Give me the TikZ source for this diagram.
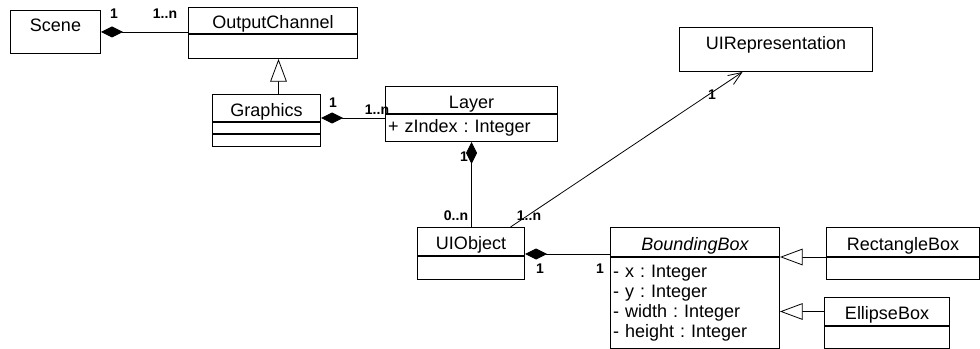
\documentclass[tikz,border=0pt]{standalone}
\usepackage{fontspec}
\setmainfont{Liberation Sans}
\usetikzlibrary{arrows.meta,calc}
\frenchspacing

\tikzset{
  classbox/.style={draw, line width=0.75pt, inner sep=0pt, font=\fontsize{13.5}{15}\selectfont},
  classhead/.style={classbox, anchor=north west, text height=14pt, text depth=1.3pt},
  classbody/.style={classbox, anchor=north},
  attrbody/.style={classbox, anchor=north, align=left, inner xsep=2pt},
  mult/.style={inner sep=0pt, font=\fontsize{10.5}{11}\selectfont\bfseries},
  assoc/.style={line width=0.6pt},
  compos/.style={assoc, {Diamond[length=16.5pt,width=8.25pt]}-},
  inherit/.style={assoc, -{Triangle[open,length=17pt,width=12.5pt,fill=white]}},
  navig/.style={assoc, -{Straight Barb[length=10pt,width=8pt]}}
}

\begin{document}
\begin{tikzpicture}[x=0.75pt,y=0.75pt,yscale=-1,xscale=1]

\useasboundingbox (0,0) rectangle (980,349);

\node[classhead, minimum width=67.5pt, minimum height=32.25pt, text height=16pt, text depth=16.25pt] (scene) at (10,10) {Scene};

\node[classhead, minimum width=126.75pt, minimum height=19.5pt] (oc) at (188,7) {OutputChannel};
\node[classbody, minimum width=126.75pt, minimum height=18pt] (ocbody) at (oc.south) {};

\node[classhead, minimum width=81pt, minimum height=20.25pt] (gfx) at (212,94) {Graphics};
\node[classbody, minimum width=81pt, minimum height=8.25pt] (gfxattr) at (gfx.south) {};
\node[classbody, minimum width=81pt, minimum height=9pt] (gfxops) at (gfxattr.south) {};

\node[classhead, minimum width=129pt, minimum height=20.25pt] (layer) at (385,86) {Layer};
\node[attrbody, text width=125pt, minimum height=20.25pt] (layerattr) at (layer.south) {+ zIndex : Integer};

\node[classhead, minimum width=144.75pt, minimum height=33pt, text height=16.8pt, text depth=16.2pt] (uirep) at (679,27) {UIRepresentation};

\node[classhead, minimum width=80.25pt, minimum height=21pt] (uiobj) at (417,227) {UIObject};
\node[classbody, minimum width=80.25pt, minimum height=17.25pt] (uiobjbody) at (uiobj.south) {};

\node[classhead, minimum width=126.75pt, minimum height=21.75pt] (bb) at (610,227) {\itshape BoundingBox};
\node[attrbody, text width=122.75pt, minimum height=68.25pt] (bbattr) at (bb.south) {- x : Integer\\- y : Integer\\- width : Integer\\- height : Integer};

\node[classhead, minimum width=114.75pt, minimum height=21.75pt] (rect) at (826,227) {RectangleBox};
\node[classbody, minimum width=114.75pt, minimum height=16.5pt] (rectbody) at (rect.south) {};

\node[classhead, minimum width=93.75pt, minimum height=21pt] (ell) at (824,297) {EllipseBox};
\node[classbody, minimum width=93.75pt, minimum height=16.5pt] (ellbody) at (ell.south) {};

\coordinate (gfxtop) at ($(gfx.north)+(12,0)$);
\coordinate (gfxside) at ($(gfx.south east)+(0,-4)$);
\coordinate (uiside) at ($(uiobj.south east)+(0,-2)$);

\draw[compos] (scene.east) -- (scene.east -| oc.west);
\draw[inherit] (gfxtop) -- (gfxtop |- ocbody.south);
\draw[compos] (gfxside) -- (gfxside -| layer.west);
\draw[compos] (layerattr.south) -- (layerattr.south |- uiobj.north);
\draw[navig] ($(uiobj.north)+(39.5,0)$) -- ($(uirep.south)+(-33.5,0)$);
\draw[compos] (uiside) -- (uiside -| bb.west);
\draw[inherit] (rect.south west) -- (rect.south west -| bb.south east);
\draw[inherit] (ell.west) -- (ell.west -| bbattr.east);

\node[mult] (scmult) at (114,14) {1};
\node[mult] (ocmult) at (165,14) {1..n};
\node[mult] (gfxmult) at (333,103) {1};
\node[mult] (layermult) at (377,110) {1..n};
\node[mult] (layerdown) at (464,157) {1};
\node[mult] (uiup) at (456,216) {0..n};
\node[mult] (uirepfrom) at (529,216) {1..n};
\node[mult] (uirepto) at (712,95) {1};
\node[mult] (uiright) at (540,269) {1};
\node[mult] (bbleft) at (600,269) {1};

\end{tikzpicture}
\end{document}
